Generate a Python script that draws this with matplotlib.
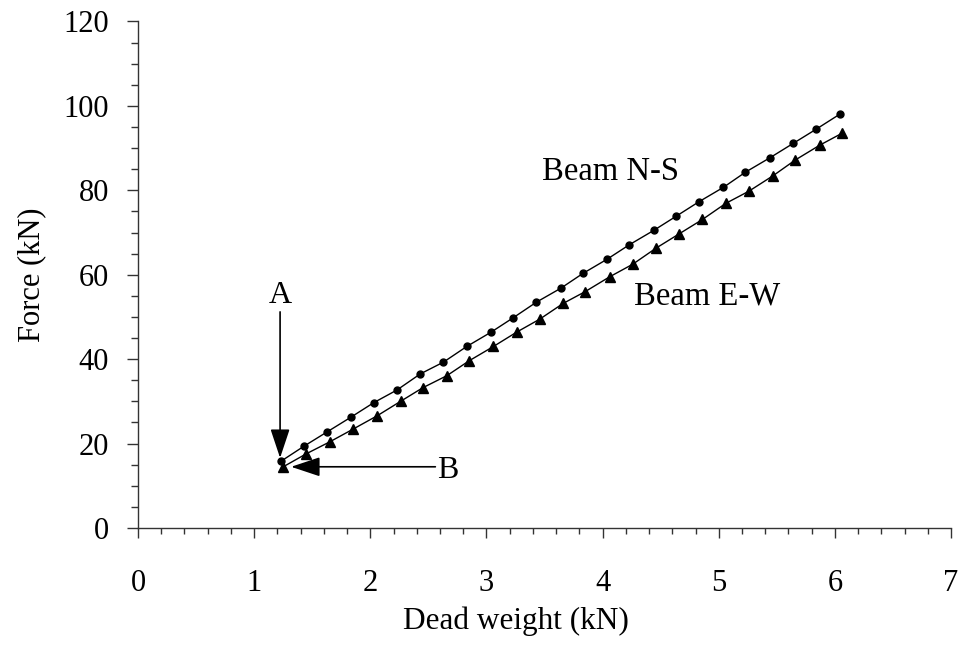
import matplotlib
matplotlib.use("Agg")
import matplotlib.pyplot as plt
from matplotlib.ticker import MultipleLocator

# Beam N-S (circles)
ns_weight = [1.23, 1.43, 1.63, 1.83, 2.03, 2.23, 2.43, 2.63, 2.83, 3.04, 3.23, 3.43, 3.64,
             3.83, 4.04, 4.23, 4.44, 4.63, 4.83, 5.04, 5.23, 5.44, 5.64, 5.84, 6.04]
ns_force = [15.8, 19.4, 22.8, 26.2, 29.7, 32.7, 36.5, 39.3, 43.0, 46.4, 49.8, 53.5, 56.8,
            60.3, 63.7, 67.1, 70.5, 73.8, 77.3, 80.7, 84.3, 87.7, 91.1, 94.5, 98.0]

# Beam E-W (triangles)
ew_weight = [1.25, 1.45, 1.65, 1.85, 2.06, 2.26, 2.45, 2.66, 2.85, 3.06, 3.26, 3.46, 3.66,
             3.85, 4.06, 4.26, 4.46, 4.66, 4.86, 5.06, 5.26, 5.47, 5.66, 5.87, 6.06]
ew_force = [14.5, 17.6, 20.4, 23.4, 26.6, 30.0, 33.2, 36.1, 39.6, 43.0, 46.4, 49.5, 53.2,
            56.0, 59.5, 62.5, 66.3, 69.7, 73.1, 76.9, 79.8, 83.5, 87.2, 90.7, 93.5]

plt.rcParams['font.family'] = 'Liberation Serif'
plt.rcParams['font.size'] = 22

fig = plt.figure(figsize=(9.66, 6.59), dpi=100)
ax = fig.add_axes([0.1429, 0.1988, 0.8416, 0.7686])

ax.plot(ns_weight, ns_force, color='black', linewidth=1.0, marker='o', markersize=5)
ax.plot(ew_weight, ew_force, color='black', linewidth=1.0, marker='^', markersize=6.5)

ax.set_xlim(0, 7)
ax.set_ylim(0, 120)
ax.xaxis.set_major_locator(MultipleLocator(1))
ax.xaxis.set_minor_locator(MultipleLocator(0.2))
ax.yaxis.set_major_locator(MultipleLocator(20))
ax.yaxis.set_minor_locator(MultipleLocator(5))

for side in ['top', 'right']:
    ax.spines[side].set_visible(False)
for side in ['left', 'bottom']:
    ax.spines[side].set_color('#333333')
    ax.spines[side].set_linewidth(1.0)

ax.tick_params(axis='x', which='major', direction='out', length=7.5, width=1, color='#333333', pad=22)
ax.tick_params(axis='x', which='minor', direction='out', length=4, width=1, color='#333333')
ax.tick_params(axis='y', which='major', direction='out', length=8, width=1, color='#333333', pad=13)
ax.tick_params(axis='y', which='minor', direction='out', length=5, width=1, color='#333333')

ax.set_xlabel('Dead weight (kN)', labelpad=6, fontsize=22.5)
ax.xaxis.label.set_x(0.465)
ax.set_ylabel('Force (kN)', labelpad=12)

ax.text(4.07, 84.3, 'Beam N-S', ha='center', va='center', fontsize=23.5)
ax.text(4.90, 55.0, 'Beam E-W', ha='center', va='center', fontsize=23.5)
ax.text(1.223, 55.0, 'A', ha='center', va='center', fontsize=23)
ax.text(2.67, 13.7, 'B', ha='center', va='center', fontsize=23)

arrow = dict(arrowstyle='-|>,head_length=0.9,head_width=0.3', mutation_scale=20,
             color='black', linewidth=1.2, shrinkA=0, shrinkB=0)
ax.annotate('', xy=(1.223, 16.6), xytext=(1.223, 51.2), arrowprops=arrow)
ax.annotate('', xy=(1.318, 14.5), xytext=(2.56, 14.5), arrowprops=arrow)

fig.savefig('out.png', dpi=100)
